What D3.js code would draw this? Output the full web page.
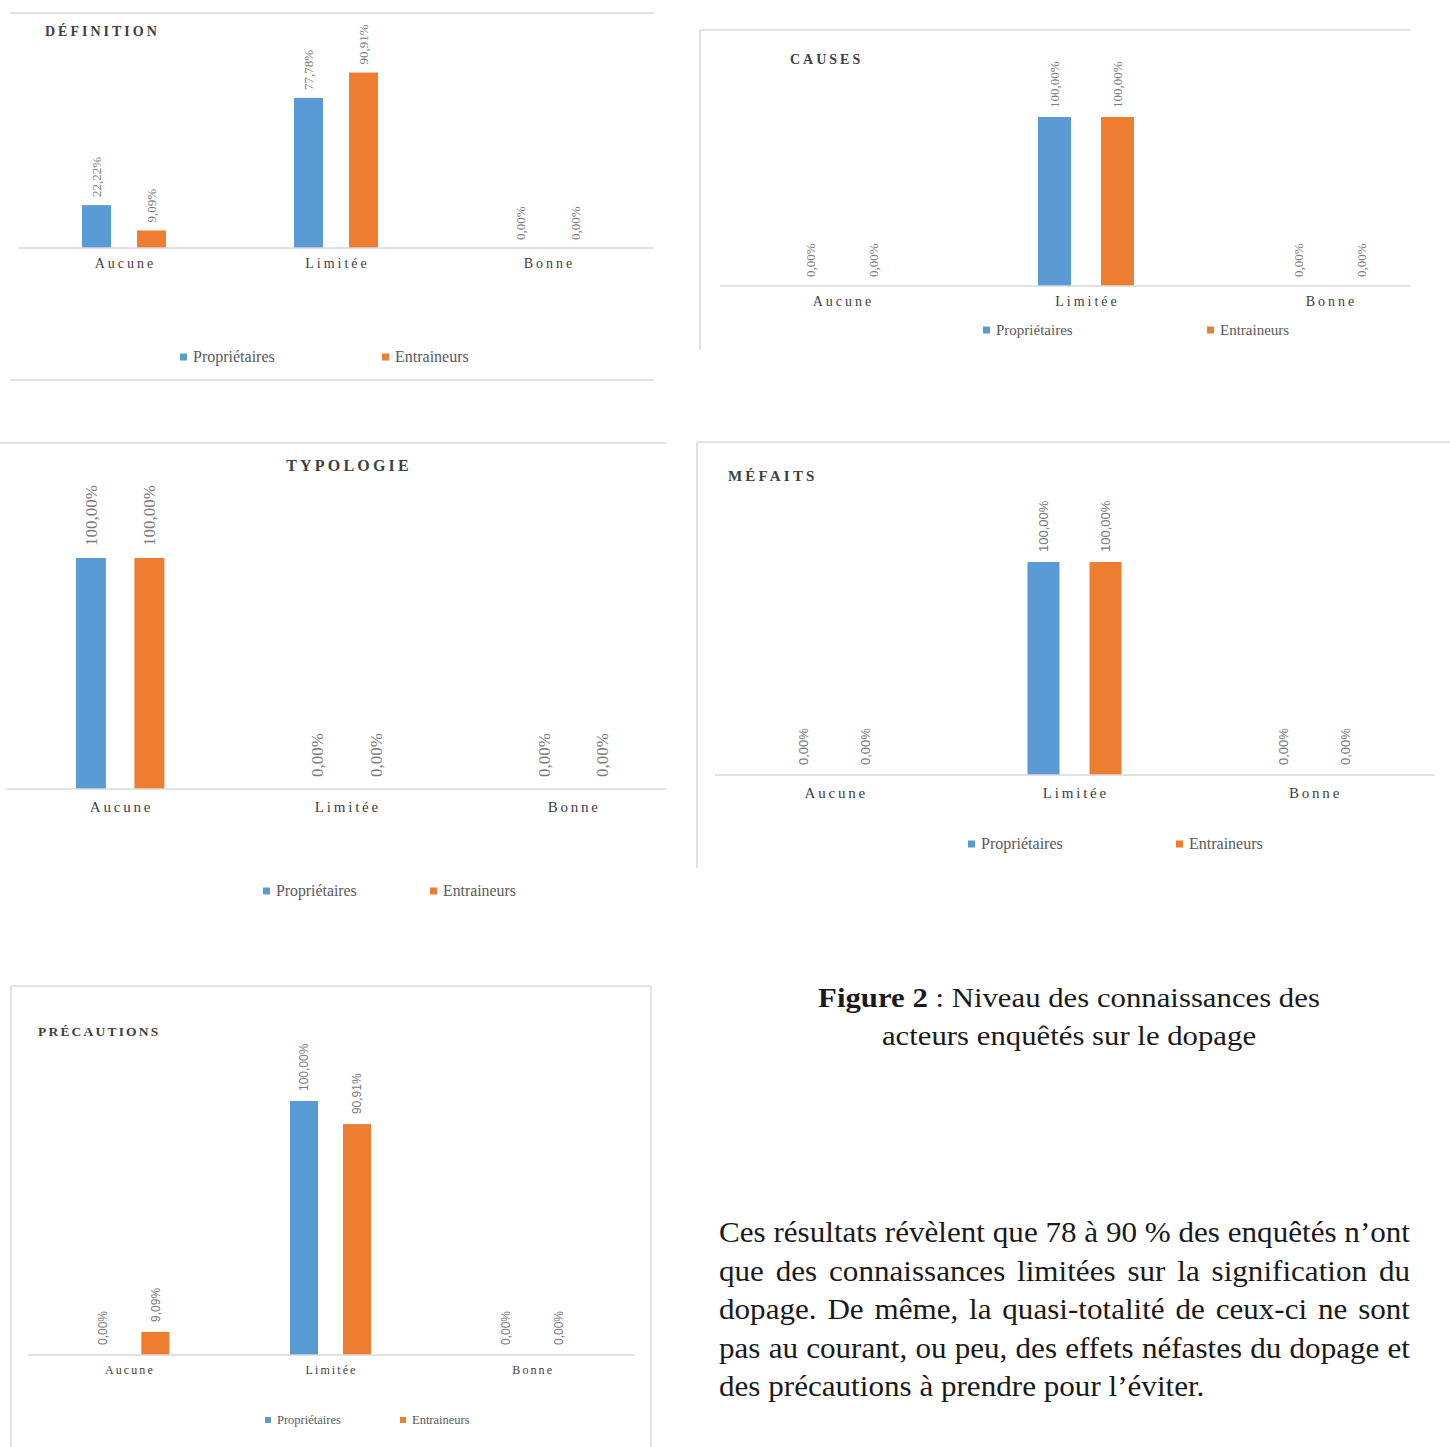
<!DOCTYPE html>
<html>
<head>
<meta charset="utf-8">
<script src="https://cdn.jsdelivr.net/npm/d3@7"></script>
<style>
  html, body { margin: 0; padding: 0; background: #ffffff; }
  svg { display: block; }
</style>
</head>
<body>
<svg id="chart" width="1450" height="1447"></svg>
<script>
// ---------- DATA ----------
const categories = ["Aucune", "Limitée", "Bonne"];
const seriesNames = ["Propriétaires", "Entraineurs"];

const definitionProp = [22.22, 77.78, 0];
const definitionEnt  = [9.09, 90.91, 0];
const causesProp     = [0, 100, 0];
const causesEnt      = [0, 100, 0];
const typologieProp  = [100, 0, 0];
const typologieEnt   = [100, 0, 0];
const mefaitsProp    = [0, 100, 0];
const mefaitsEnt     = [0, 100, 0];
const precautionsProp = [0, 100, 0];
const precautionsEnt  = [9.09, 90.91, 0];

const panelTitles = ["DÉFINITION", "CAUSES", "TYPOLOGIE", "MÉFAITS", "PRÉCAUTIONS"];

const captionBold = "Figure 2";
const captionRest = " : Niveau des connaissances des";
const captionLine2 = "acteurs enquêtés sur le dopage";
const paragraphLines = [
  "Ces résultats révèlent que 78 à 90 % des enquêtés n’ont",
  "que des connaissances limitées sur la signification du",
  "dopage. De même, la quasi-totalité de ceux-ci ne sont",
  "pas au courant, ou peu, des effets néfastes du dopage  et",
  "des précautions à prendre pour l’éviter."
];

// ---------- STYLE / LAYOUT ----------
const colors = ["#5B9BD5", "#ED7D31"];
const SERIF = "'Liberation Serif', 'Times New Roman', serif";
const SANS = "'Liberation Sans', Arial, sans-serif";
const gridColor = "#D9D9D9";

const layouts = [
  { prop: definitionProp, ent: definitionEnt,
    band: [18, 654], axis: [18, 654], base: 248, h100: 193, barW: 29, gap: 55,
    title: { x: 45, y: 36, size: 14, ls: 3, anchor: "start" },
    valFont: SERIF, valSize: 13, valGap: 8,
    catY: 268, catSize: 14, catLs: 3,
    legY: 357, legX: [180, 382], legSize: 16, legSq: 7,
    lines: [[10, 13, 654, 13], [10, 380, 654, 380]] },
  { prop: causesProp, ent: causesEnt,
    band: [720, 1452], axis: [720, 1410], base: 286, h100: 169, barW: 33, gap: 63,
    title: { x: 790, y: 64, size: 14, ls: 3, anchor: "start" },
    valFont: SERIF, valSize: 13, valGap: 9,
    catY: 306, catSize: 14, catLs: 3,
    legY: 330, legX: [983, 1207], legSize: 15, legSq: 7,
    lines: [[700, 30, 1410, 30], [700, 30, 700, 350]] },
  { prop: typologieProp, ent: typologieEnt,
    band: [7, 686], axis: [7, 666], base: 789, h100: 231, barW: 30, gap: 58.5,
    title: { x: 349, y: 471, size: 16, ls: 3.2, anchor: "middle" },
    valFont: SERIF, valSize: 17, valGap: 12,
    catY: 812, catSize: 15, catLs: 2.8,
    legY: 891, legX: [263, 430], legSize: 15.8, legSq: 7,
    lines: [[0, 443, 666, 443]] },
  { prop: mefaitsProp, ent: mefaitsEnt,
    band: [715, 1434], axis: [715, 1435], base: 775, h100: 213, barW: 32, gap: 62,
    title: { x: 728, y: 481, size: 15, ls: 3.2, anchor: "start" },
    valFont: SANS, valSize: 13, valGap: 10,
    catY: 798, catSize: 15, catLs: 2.8,
    legY: 844, legX: [968, 1176], legSize: 16, legSq: 7,
    lines: [[697, 442, 1450, 442], [697, 442, 697, 868]] },
  { prop: precautionsProp, ent: precautionsEnt,
    band: [28, 633], axis: [28, 635], base: 1355, h100: 254, barW: 28, gap: 53,
    title: { x: 38, y: 1036, size: 13.5, ls: 2.2, anchor: "start" },
    valFont: SANS, valSize: 12, valGap: 10,
    catY: 1374, catSize: 12, catLs: 2.1,
    legY: 1420, legX: [265, 400], legSize: 12.5, legSq: 6,
    lines: [[11, 986, 651, 986], [11, 986, 11, 1447], [651, 986, 651, 1447]] }
];

const locale = d3.formatLocale({ decimal: ",", thousands: " ", grouping: [3], currency: ["", "€"] });
const fmt = v => locale.format(".2f")(v) + "%";

const svg = d3.select("#chart");

layouts.forEach((L, pi) => {
  const g = svg.append("g").attr("class", "panel");
  const values = [L.prop, L.ent];

  // frame lines
  g.selectAll("line.frame").data(L.lines).join("line")
    .attr("class", "frame")
    .attr("x1", d => d[0]).attr("y1", d => d[1])
    .attr("x2", d => d[2]).attr("y2", d => d[3])
    .attr("stroke", gridColor).attr("stroke-width", 1.5);

  const x0 = d3.scaleBand().domain(categories).range(L.band).padding(0);
  const x1 = d3.scalePoint().domain(seriesNames).range([-L.gap / 2, L.gap / 2]);
  const y = d3.scaleLinear().domain([0, 100]).range([L.base, L.base - L.h100]);

  // title
  g.append("text")
    .attr("x", L.title.x).attr("y", L.title.y)
    .attr("text-anchor", L.title.anchor)
    .attr("font-family", SERIF).attr("font-weight", "bold")
    .attr("font-size", L.title.size).attr("letter-spacing", L.title.ls)
    .attr("fill", "#404040")
    .text(panelTitles[pi]);

  const rows = [];
  categories.forEach((c, ci) => {
    seriesNames.forEach((s, si) => {
      rows.push({ cat: c, ser: s, si, v: values[si][ci] });
    });
  });
  const cx = d => x0(d.cat) + x0.bandwidth() / 2 + x1(d.ser);

  // bars
  g.selectAll("rect.bar").data(rows.filter(d => d.v > 0)).join("rect")
    .attr("class", "bar")
    .attr("x", d => cx(d) - L.barW / 2)
    .attr("y", d => y(d.v))
    .attr("width", L.barW)
    .attr("height", d => y(0) - y(d.v))
    .attr("fill", d => colors[d.si]);

  // axis baseline
  const axisG = g.append("g").attr("transform", `translate(0,${L.base})`);
  axisG.append("line")
    .attr("x1", L.axis[0]).attr("x2", L.axis[1])
    .attr("stroke", gridColor).attr("stroke-width", 1.5);

  // category labels
  g.selectAll("text.cat").data(categories).join("text")
    .attr("class", "cat")
    .attr("x", d => x0(d) + x0.bandwidth() / 2 + L.catLs / 2)
    .attr("y", L.catY)
    .attr("text-anchor", "middle")
    .attr("font-family", SERIF).attr("font-size", L.catSize)
    .attr("letter-spacing", L.catLs)
    .attr("fill", "#404040")
    .text(d => d);

  // value labels (rotated)
  g.selectAll("text.val").data(rows).join("text")
    .attr("class", "val")
    .attr("transform", d => `translate(${cx(d) + L.valSize * 0.35},${y(d.v) - L.valGap}) rotate(-90)`)
    .attr("text-anchor", "start")
    .attr("font-family", L.valFont).attr("font-size", L.valSize)
    .attr("fill", "#7A7A7A")
    .text(d => fmt(d.v));

  // legend
  const leg = g.selectAll("g.leg").data(seriesNames).join("g")
    .attr("class", "leg")
    .attr("transform", (d, i) => `translate(${L.legX[i]},${L.legY})`);
  leg.append("rect")
    .attr("x", 0).attr("y", -L.legSq / 2)
    .attr("width", L.legSq).attr("height", L.legSq)
    .attr("fill", (d, i) => colors[i]);
  leg.append("text")
    .attr("x", L.legSq + 6).attr("y", L.legSize * 0.33)
    .attr("font-family", SERIF).attr("font-size", L.legSize)
    .attr("fill", "#595959")
    .text(d => d);
});

// ---------- CAPTION ----------
const capSize = 28, capCX = 1069, capW1 = 502;
const capG = svg.append("g");
const cap = capG.append("text")
  .attr("x", 0).attr("y", 1007)
  .attr("text-anchor", "middle")
  .attr("font-family", SERIF).attr("font-size", capSize)
  .attr("fill", "#1a1a1a");
cap.append("tspan").attr("font-weight", "bold").text(captionBold);
cap.append("tspan").text(captionRest);
capG.append("text")
  .attr("x", 0).attr("y", 1045)
  .attr("text-anchor", "middle")
  .attr("font-family", SERIF).attr("font-size", capSize)
  .attr("fill", "#1a1a1a")
  .text(captionLine2);
const capScale = capW1 / cap.node().getComputedTextLength();
capG.attr("transform", `translate(${capCX},0) scale(${capScale},1)`);

// ---------- PARAGRAPH (justified) ----------
const parX = 719, parW = 691, parY0 = 1242, parLH = 38.6, parSize = 28.5;
const parG = svg.append("g");
// measure natural width of the first line to get the horizontal stretch
const probe = parG.append("text").attr("font-family", SERIF).attr("font-size", parSize)
  .text(paragraphLines[0]);
const natural = probe.node().getComputedTextLength();
probe.remove();
const sx = parW / natural;
const innerW = parW / sx;
parG.attr("transform", `translate(${parX},0) scale(${sx},1)`);
paragraphLines.forEach((line, li) => {
  const yLine = parY0 + li * parLH;
  const isLast = li === paragraphLines.length - 1;
  const words = line.split(/\s+/);
  const tmp = words.map(w => parG.append("text")
    .attr("font-family", SERIF).attr("font-size", parSize)
    .attr("fill", "#1a1a1a").attr("y", yLine).text(w));
  const widths = tmp.map(t => t.node().getComputedTextLength());
  const total = d3.sum(widths);
  const spaceNat = parSize * 0.25;
  const space = isLast ? spaceNat : (innerW - total) / (words.length - 1);
  let xx = 0;
  tmp.forEach((t, i) => {
    t.attr("x", xx);
    xx += widths[i] + space;
  });
});
</script>
</body>
</html>
